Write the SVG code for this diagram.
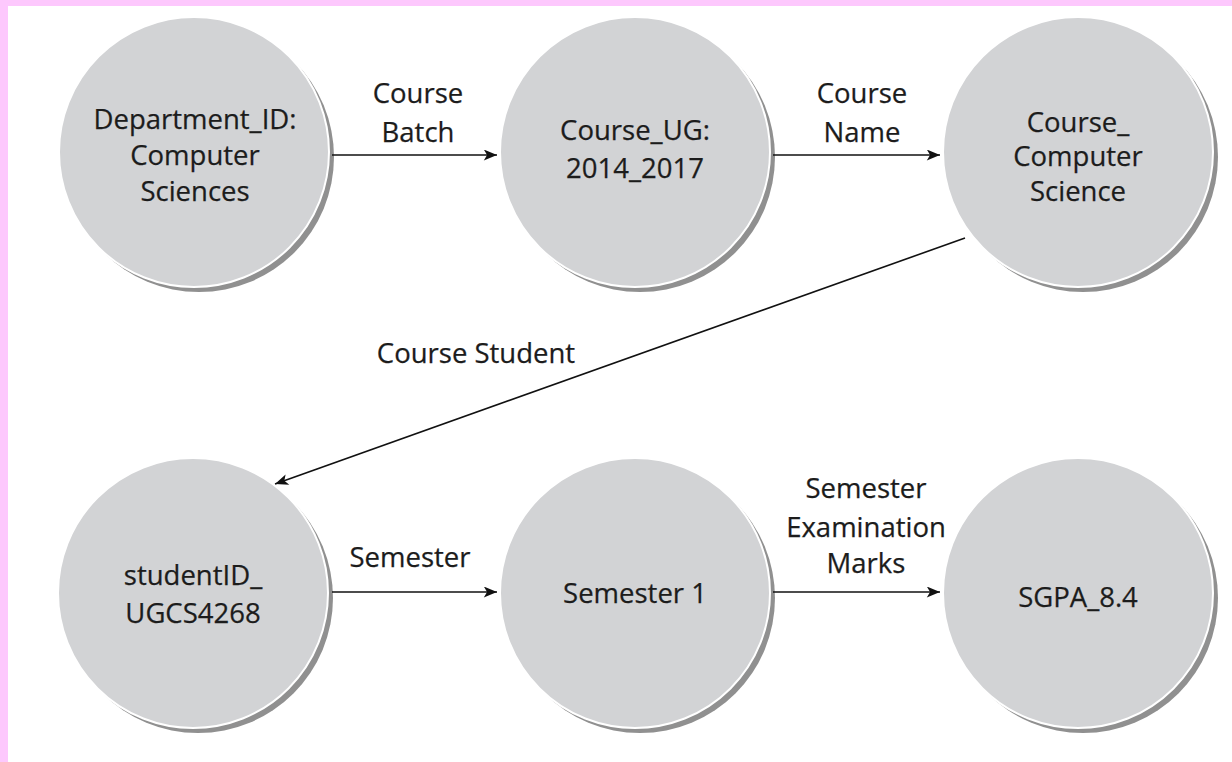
<svg xmlns="http://www.w3.org/2000/svg" width="1232" height="762" viewBox="0 0 1232 762">
<style>
.t{font-family:"Open Sans","Liberation Sans",sans-serif;font-size:27.5px;fill:#1c1c1c;stroke:#1c1c1c;stroke-width:0.25;text-anchor:middle}
.c{fill:#d2d3d5;stroke:#fff;stroke-width:2}
.s{fill:#909090}
.e{stroke:#111;stroke-width:1.6;fill:none;marker-end:url(#ah)}
</style>
<defs>
<marker id="ah" viewBox="0 0 12 10" refX="12" refY="5" markerWidth="14" markerHeight="11" markerUnits="userSpaceOnUse" orient="auto">
<path d="M0,0 L12,5 L0,10 L3,5 Z" fill="#111"/>
</marker>
</defs>
<rect width="1232" height="762" fill="#fff"/>
<rect x="0" y="0" width="1232" height="6" fill="#fdc8fd"/>
<rect x="0" y="0" width="8" height="762" fill="#fdc8fd"/>
<g id="n1"><circle class="s" cx="199" cy="157" r="135"/><circle class="c" cx="194" cy="152" r="135"/>
<text class="t" x="195" y="129">Department_ID:</text><text class="t" x="195" y="165">Computer</text><text class="t" x="195" y="201">Sciences</text></g>
<g id="n2"><circle class="s" cx="640" cy="157" r="135"/><circle class="c" cx="635" cy="152" r="135"/>
<text class="t" x="635" y="140">Course_UG:</text><text class="t" x="635" y="178">2014_2017</text></g>
<g id="n3"><circle class="s" cx="1083" cy="157" r="135"/><circle class="c" cx="1078" cy="152" r="135"/>
<text class="t" x="1078" y="132">Course_</text><text class="t" x="1078" y="166">Computer</text><text class="t" x="1078" y="201">Science</text></g>
<g id="n4"><circle class="s" cx="198" cy="598" r="135"/><circle class="c" cx="193" cy="593" r="135"/>
<text class="t" x="193" y="585">studentID_</text><text class="t" x="193" y="623">UGCS4268</text></g>
<g id="n5"><circle class="s" cx="640" cy="598" r="135"/><circle class="c" cx="635" cy="593" r="135"/>
<text class="t" x="635" y="603">Semester 1</text></g>
<g id="n6"><circle class="s" cx="1083" cy="598" r="135"/><circle class="c" cx="1078" cy="593" r="135"/>
<text class="t" x="1078" y="607">SGPA_8.4</text></g>
<g id="edges">
<line class="e" x1="332" y1="155" x2="497" y2="155"/>
<line class="e" x1="773" y1="155" x2="940" y2="155"/>
<line class="e" x1="965" y1="238" x2="275" y2="484"/>
<line class="e" x1="332" y1="592" x2="497" y2="592"/>
<line class="e" x1="773" y1="592" x2="940" y2="592"/>
</g>
<g id="labels">
<text class="t" x="418" y="103">Course</text><text class="t" x="418" y="142">Batch</text>
<text class="t" x="862" y="103">Course</text><text class="t" x="862" y="142">Name</text>
<text class="t" x="476" y="363">Course Student</text>
<text class="t" x="410" y="567">Semester</text>
<text class="t" x="866" y="498">Semester</text><text class="t" x="866" y="537">Examination</text><text class="t" x="866" y="573">Marks</text>
</g>
</svg>
